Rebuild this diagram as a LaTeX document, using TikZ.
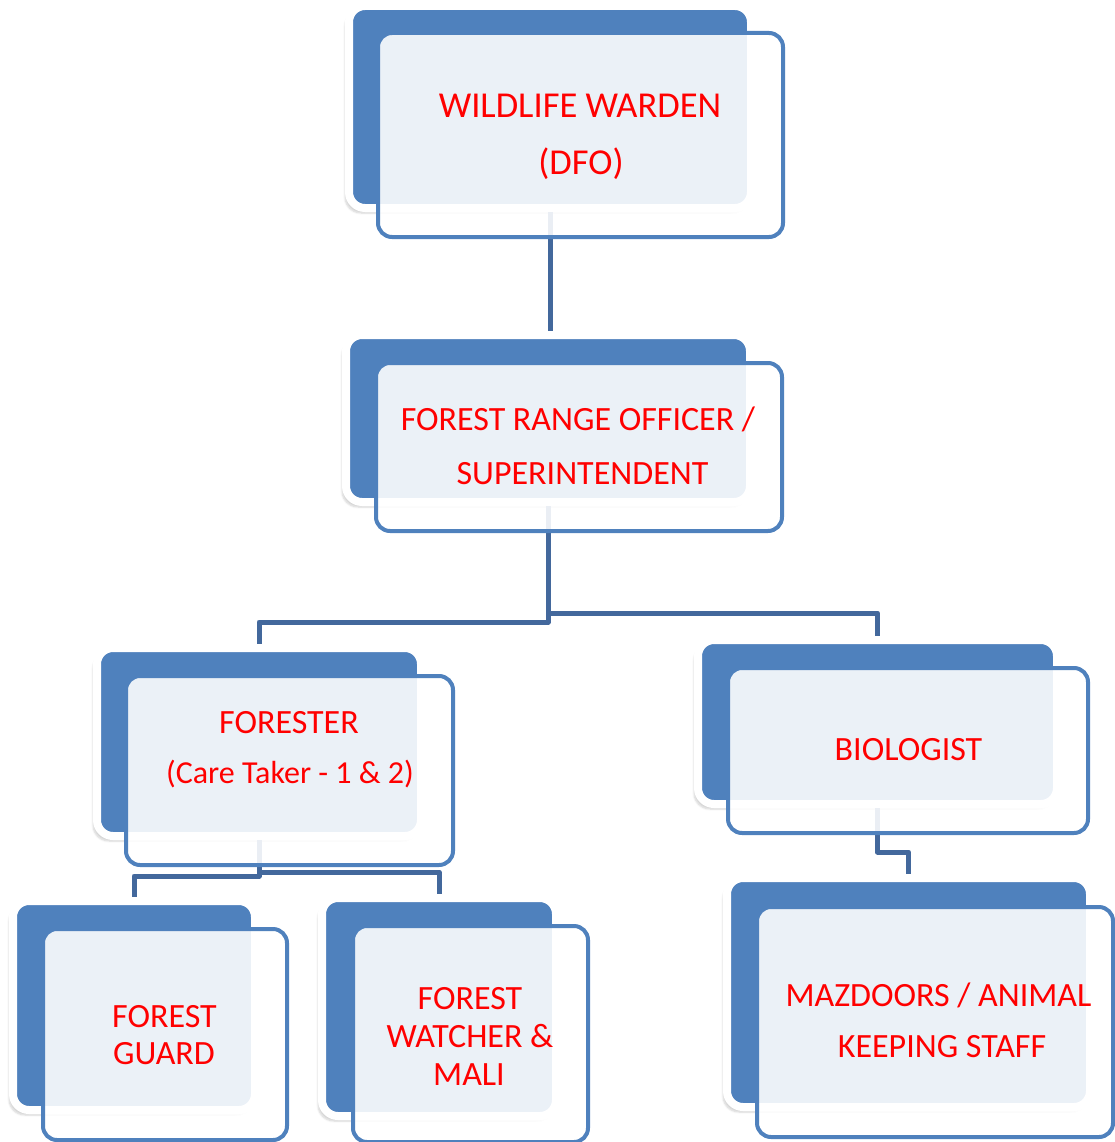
\documentclass[tikz,border=0pt]{standalone}
\usepackage{fontspec}
\setmainfont{Carlito}
\usetikzlibrary{shadows.blur}
\definecolor{accblue}{HTML}{4F81BD}
\definecolor{connblue}{HTML}{43689C}
\begin{document}
\begin{tikzpicture}[x=1pt,y=-1pt,
  backbox/.style={rectangle, rounded corners=16pt, fill=accblue, draw=white, line width=8pt, inner sep=0pt,
     blur shadow={shadow xshift=-4pt, shadow yshift=-5pt, shadow opacity=18, shadow blur steps=6}},
  frontbox/.style={rectangle, rounded corners=14pt, draw=accblue, line width=4pt, fill=white, fill opacity=0.89, inner sep=0pt},
  conn/.style={draw=connblue, line width=5pt, line join=round},
  lbl/.style={anchor=base, text=red, inner sep=0pt, font=\fontsize{34}{40}\selectfont},
  biglbl/.style={lbl, font=\fontsize{36.5}{42}\selectfont},
  smalllbl/.style={lbl, font=\fontsize{32}{38}\selectfont}]
\useasboundingbox (0,0) rectangle (1114,1142);
% back boxes
\node[backbox, minimum width=402pt, minimum height=202pt] (wwb) at (550,107) {};
\node[backbox, minimum width=404pt, minimum height=167pt] (frob) at (548,418.5) {};
\node[backbox, minimum width=324pt, minimum height=188pt] (forb) at (259,742) {};
\node[backbox, minimum width=359pt, minimum height=164pt] (biob) at (877.5,722) {};
\node[backbox, minimum width=242pt, minimum height=209pt] (fgb) at (134,1005.5) {};
\node[backbox, minimum width=234pt, minimum height=218pt] (fwb) at (439,1007) {};
\node[backbox, minimum width=363pt, minimum height=229pt] (mazb) at (908.5,992.5) {};
% connectors
\draw[conn] (wwb.south) -- (wwb.south |- frob.north);
\draw[conn] (frob.south) -- ++(0,116) -| (forb.north);
\draw[conn] (frob.south) -- ++(0,107) -| (biob.north);
\draw[conn] (forb.south) -- ++(0,36) -| (fgb.north);
\draw[conn] (forb.south) -- ++(0,32) -| (fwb.north);
\draw[conn] (biob.south) -- ++(0,44) -| (mazb.north);
% front boxes
\node[frontbox, minimum width=405pt, minimum height=204pt] (wwf) at (580.5,135) {};
\node[frontbox, minimum width=406pt, minimum height=168pt] (frof) at (579,447) {};
\node[frontbox, minimum width=327pt, minimum height=189pt] (forf) at (289.5,770.5) {};
\node[frontbox, minimum width=360pt, minimum height=165pt] (biof) at (908,750.5) {};
\node[frontbox, minimum width=244pt, minimum height=211pt] (fgf) at (165,1034.5) {};
\node[frontbox, minimum width=235pt, minimum height=216pt] (fwf) at (470.5,1034) {};
\node[frontbox, minimum width=356pt, minimum height=230pt] (mazf) at (935,1022) {};
% labels
\node[biglbl] (ww1) at (580,118) {WILDLIFE WARDEN};
\node[biglbl] (ww2) at (581,175) {(DFO)};
\node[lbl] (fro1) at (578,430) {FOREST RANGE OFFICER /};
\node[lbl] (fro2) at (582.5,484) {SUPERINTENDENT};
\node[lbl] (for1) at (289,733) {FORESTER};
\node[smalllbl] (for2) at (290,783) {(Care Taker - 1 \& 2)};
\node[lbl] (bio1) at (908.5,760) {BIOLOGIST};
\node[lbl] (fg1) at (164.5,1027) {FOREST};
\node[lbl] (fg2) at (164,1064) {GUARD};
\node[lbl] (fw1) at (470,1009) {FOREST};
\node[lbl] (fw2) at (470,1047) {WATCHER \&};
\node[lbl] (fw3) at (469,1085) {MALI};
\node[lbl] (maz1) at (938.5,1006) {MAZDOORS / ANIMAL};
\node[lbl] (maz2) at (942,1057) {KEEPING STAFF};
\end{tikzpicture}
\end{document}
